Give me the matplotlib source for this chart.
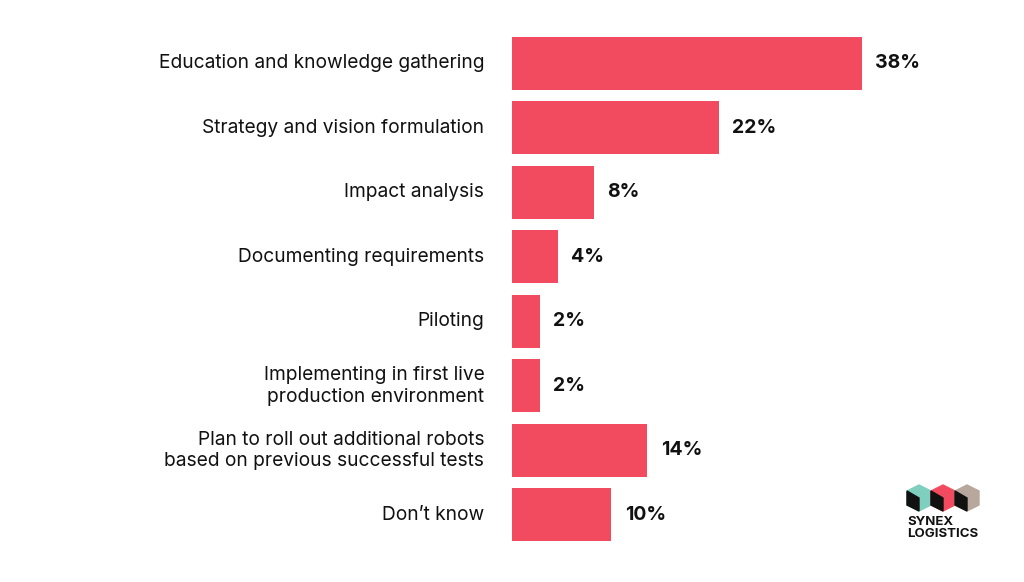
import matplotlib.pyplot as plt
from matplotlib.patches import Polygon

categories = [
    "Education and knowledge gathering",
    "Strategy and vision formulation",
    "Impact analysis",
    "Documenting requirements",
    "Piloting",
    "Implementing in first live\nproduction environment",
    "Plan to roll out additional robots\nbased on previous successful tests",
    "Don\u2019t know",
]
values = [38, 22, 8, 4, 2, 2, 14, 10]

bar_color = "#f24b5f"
stub = 1.12  # bars begin a little left of zero

fig = plt.figure(figsize=(10.24, 5.82), dpi=100)
ax = fig.add_axes([512 / 1024, 0.060, 447 / 1024, 0.887])
pos = list(range(len(values)))
ax.barh(pos, values, height=0.82, color=bar_color)
ax.barh(pos, [stub] * len(values), left=-stub, height=0.82, color=bar_color)
ax.set_xlim(-stub, 50 - stub)
ax.set_ylim(7.5, -0.5)
ax.axis("off")

for i, (c, v) in enumerate(zip(categories, values)):
    ax.text(-stub - 3.1, i, c, ha="right", va="center", fontsize=13.8,
            family="Inter", linespacing=1.25, color="#111111")
    ax.text(v + 1.5, i, f"{v}%", ha="left", va="center", fontsize=14,
            family="Inter", fontweight="bold", color="#111111")

# logo: three little cubes, drawn in pixel coordinates
lax = fig.add_axes([0, 0, 1, 1])
lax.set_xlim(0, 1024)
lax.set_ylim(582, 0)
lax.axis("off")
tops = ["#7fcfbf", "#f24b5f", "#b8a79c"]
for k, col in enumerate(tops):
    x0 = 907 + k * 24
    lax.add_patch(Polygon([(x0, 491), (x0 + 12, 485), (x0 + 24, 491),
                           (x0 + 24, 505), (x0 + 12, 511), (x0, 505)],
                          closed=True, color=col))
    lax.add_patch(Polygon([(x0, 491), (x0 + 12, 498), (x0 + 12, 511),
                           (x0, 505)], closed=True, color="#111111"))
lax.text(907, 516, "SYNEX\nLOGISTICS", fontsize=9.5, fontweight="bold",
         family="Inter", va="top", ha="left", linespacing=1.05, color="#111111")

fig.savefig("out.png", dpi=100)
